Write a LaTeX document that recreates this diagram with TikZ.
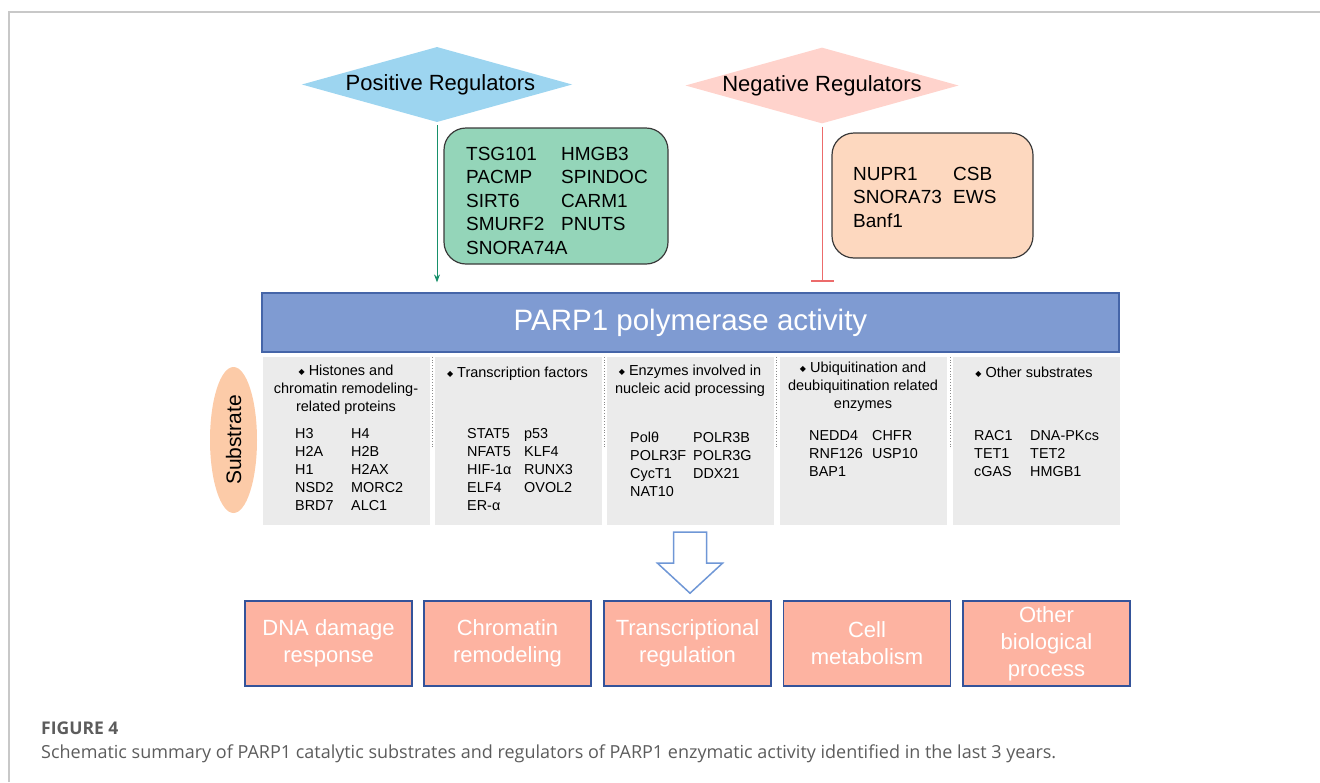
\documentclass[tikz,border=0pt]{standalone}
\usepackage{fontspec}
\setmainfont{Liberation Sans}
\newfontfamily\capfont{Open Sans}
\newfontfamily\symfont{DejaVu Sans}
\usetikzlibrary{shapes.geometric,arrows.meta,calc}
\definecolor{posblue}{HTML}{9DD5F0}
\definecolor{negpink}{HTML}{FFD3CC}
\definecolor{posgreen}{HTML}{94D5B9}
\definecolor{negorange}{HTML}{FDD8BF}
\definecolor{boxline}{HTML}{3A3A3A}
\definecolor{barblue}{HTML}{7F9BD2}
\definecolor{barline}{HTML}{4565A8}
\definecolor{subgray}{HTML}{EBEBEB}
\definecolor{sepgray}{HTML}{8A8A8A}
\definecolor{subpeach}{HTML}{FCCBA8}
\definecolor{outsalmon}{HTML}{FDB3A1}
\definecolor{outline}{HTML}{34539A}
\definecolor{hollowblue}{HTML}{6F97D6}
\definecolor{arrowgreen}{HTML}{17906A}
\definecolor{inhibred}{HTML}{EC6B6B}
\definecolor{framegray}{HTML}{C8C8C8}
\definecolor{capgray}{HTML}{5C5C5C}
\newcommand{\bul}{{\symfont\fontsize{8}{8}\selectfont\raisebox{0.6pt}{◆}}\ }
\begin{document}
\begin{tikzpicture}
    [x=1pt,y=-1pt,
    regdiamond/.style={diamond, aspect=3.6, inner sep=0pt, font=\fontsize{22}{26}\selectfont},
    regbox/.style={draw=boxline, line width=1.2pt, rounded corners=22pt, minimum width=224pt, minimum height=136pt},
    genelist/.style={anchor=north west, inner sep=0pt, font=\fontsize{19}{23.5}\selectfont},
    subbox/.style={fill=subgray, minimum width=167pt, minimum height=168pt, inner sep=0pt},
    subhead/.style={anchor=north, inner sep=0pt, font=\fontsize{14.5}{18}\selectfont},
    subitems/.style={anchor=north west, inner sep=0pt, font=\fontsize{14.4}{18}\selectfont},
    sepline/.style={draw=sepgray, dotted, line width=0.8pt},
    outbox/.style={fill=outsalmon, draw=outline, line width=1.2pt, minimum width=167pt, minimum height=85pt, text=white, align=center, font=\fontsize{22}{27}\selectfont}]
    \useasboundingbox (0,0) rectangle (1320,782);
    \draw [framegray, line width=1.5pt] (9,782) -- (9,12) -- (1320,12);
    % regulators
    \node [regdiamond, fill=posblue] (posreg) at (437,84.5) {\hspace*{7pt}Positive Regulators};
    \node [regdiamond, fill=negpink] (negreg) at (822,85.5) {Negative Regulators};
    \node [regbox, fill=posgreen] (posbox) at (556,196) {};
    \node [genelist] (poslist) at (466,143.35) {\begin{tabular}{@{}p{95pt}@{}l@{}}
        TSG101 & HMGB3\\ PACMP & SPINDOC\\ SIRT6 & CARM1\\ SMURF2 & PNUTS\\ SNORA74A &
        \end{tabular}};
    \node [regbox, fill=negorange, minimum width=201pt, minimum height=125pt] (negbox) at (932.5,195.5) {};
    \node [genelist] (neglist) at (853,163.35) {\begin{tabular}{@{}p{100pt}@{}l@{}}
        NUPR1 & CSB\\ SNORA73 & EWS\\ Banf1 &
        \end{tabular}};
    \node [fill=barblue, draw=barline, line width=1.2pt, minimum width=857pt, minimum height=59pt,
        text=white, font=\fontsize{29.5}{30}\selectfont] (bar) at (690.5,322.5) {PARP1 polymerase activity};
    \draw [arrowgreen, line width=1pt, -{Stealth[length=8pt,width=6pt]}, shorten <=3pt, shorten >=10pt]
        (posreg.south) -- (posreg.south |- bar.north);
    \draw [inhibred, line width=1pt, -{Bar[width=23pt,line width=2pt]}, shorten <=3pt, shorten >=10pt]
        (negreg.south) -- (negreg.south |- bar.north);
    % substrates
    \node [ellipse, fill=subpeach, rotate=90, minimum width=146pt, minimum height=47pt, inner sep=0pt,
        font=\fontsize{21}{21}\selectfont] (substrate) at (233.5,440) {Substrate};
    \node [subbox] (col1) at (346,441) {};
    \node [subbox] (col2) at (518,441) {};
    \node [subbox] (col3) at (690,441) {};
    \node [subbox] (col4) at (863.5,441) {};
    \node [subbox] (col5) at (1036.5,441) {};
    \draw [sepline] ($(col1.north east)!0.5!(col2.north west)$) -- ++(0,90);
    \draw [sepline] ($(col2.north east)!0.5!(col3.north west)$) -- ++(0,90);
    \draw [sepline] ($(col3.north east)!0.5!(col4.north west)$) -- ++(0,90);
    \draw [sepline] ($(col4.north east)!0.5!(col5.north west)$) -- ++(0,90);
    \node [subhead] (head1) at (346,362.6) {\begin{tabular}{@{}c@{}}\bul Histones and\\ chromatin remodeling-\\ related proteins\end{tabular}};
    \node [subhead] (head2) at (517.5,364.6) {\begin{tabular}{@{}c@{}}\bul Transcription factors\end{tabular}};
    \node [subhead] (head3) at (690,362.6) {\begin{tabular}{@{}c@{}}\bul Enzymes involved in\\ nucleic acid processing\end{tabular}};
    \node [subhead] (head4) at (863,359.6) {\begin{tabular}{@{}c@{}}\bul Ubiquitination and\\ deubiquitination related\\ enzymes\end{tabular}};
    \node [subhead] (head5) at (1034,364.6) {\begin{tabular}{@{}c@{}}\bul Other substrates\end{tabular}};
    \node [subitems] (items1) at (295,425.6) {\begin{tabular}{@{}p{56pt}@{}l@{}}
        H3 & H4\\ H2A & H2B\\ H1 & H2AX\\ NSD2 & MORC2\\ BRD7 & ALC1\end{tabular}};
    \node [subitems] (items2) at (467,425.6) {\begin{tabular}{@{}p{57pt}@{}l@{}}
        STAT5 & p53\\ NFAT5 & KLF4\\ HIF-1α & RUNX3\\ ELF4 & OVOL2\\ ER-α &\end{tabular}};
    \node [subitems] (items3) at (630,429.6) {\begin{tabular}{@{}p{63pt}@{}l@{}}
        Polθ & POLR3B\\ POLR3F & POLR3G\\ CycT1 & DDX21\\ NAT10 &\end{tabular}};
    \node [subitems] (items4) at (809,427.6) {\begin{tabular}{@{}p{63pt}@{}l@{}}
        NEDD4 & CHFR\\ RNF126 & USP10\\ BAP1 &\end{tabular}};
    \node [subitems] (items5) at (974,427.6) {\begin{tabular}{@{}p{56pt}@{}l@{}}
        RAC1 & DNA-PKcs\\ TET1 & TET2\\ cGAS & HMGB1\end{tabular}};
    % outcomes
    \coordinate (flowtop) at ($(col3.south)+(0,7)$);
    \draw [hollowblue, line width=1.5pt, fill=white] (flowtop) ++(-16.5,0) -- ++(0,31) -- ++(-16,0)
        -- ++(32.5,30) -- ++(32.5,-30) -- ++(-16,0) -- ++(0,-31) -- cycle;
    \node [outbox] (dnadamage) at (328.5,643.5) {DNA damage\\response};
    \node [outbox] (chromatin) at (507.5,643.5) {Chromatin\\remodeling};
    \node [outbox] (transcription) at (687.5,643.5) {Transcriptional\\regulation};
    \node [outbox] (metabolism) at (867,643.5) {Cell\\metabolism};
    \node [outbox] (otherproc) at (1046.5,643.5) {Other\\biological\\process};
    % caption
    \node [anchor=base west, inner sep=0pt, text=capgray, font=\capfont\bfseries\fontsize{17.5}{20}\selectfont] (figlabel) at (41,734) {FIGURE 4};
    \node [anchor=base west, inner sep=0pt, text=capgray, font=\capfont\fontsize{18}{20}\selectfont] (figcaption) at (41,758)
        {Schematic summary of PARP1 catalytic substrates and regulators of PARP1 enzymatic activity identified in the last 3 years.};
\end{tikzpicture}
\end{document}
